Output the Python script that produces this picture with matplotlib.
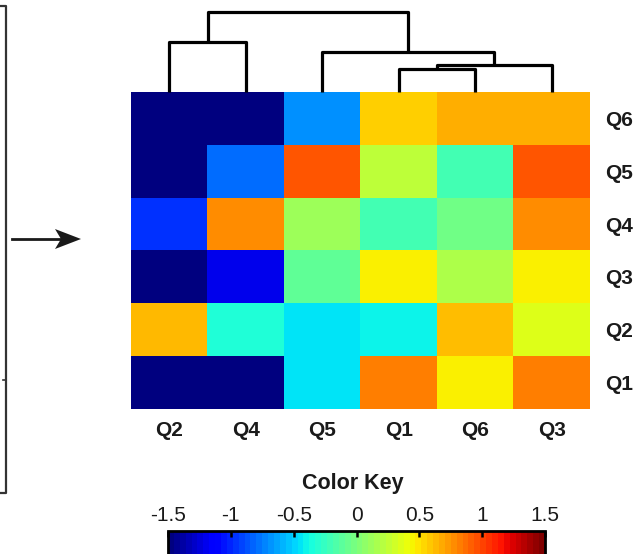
import numpy as np
import matplotlib
matplotlib.use("Agg")
from matplotlib import pyplot as plt
from matplotlib.lines import Line2D
from matplotlib.patches import Polygon
import matplotlib.colors as mcolors
import matplotlib.colorbar as mcolorbar

plt.rcParams['font.family'] = ['Liberation Sans', 'DejaVu Sans']

# column order after clustering, rows listed top to bottom
col_labels = ["Q2", "Q4", "Q5", "Q1", "Q6", "Q3"]
row_labels = ["Q6", "Q5", "Q4", "Q3", "Q2", "Q1"]

q6_row = [-1.5, -1.5, -0.70, 0.57, 0.67, 0.67]
q5_row = [-1.5, -0.80, 0.95, 0.24, -0.20, 0.95]
q4_row = [-0.98, 0.78, 0.12, -0.20, -0.04, 0.78]
q3_row = [-1.5, -1.21, -0.10, 0.46, 0.18, 0.46]
q2_row = [0.64, -0.33, -0.45, -0.40, 0.63, 0.36]
q1_row = [-1.5, -1.5, -0.45, 0.83, 0.46, 0.83]

# dendrogram merges: (left child, right child, height); leaves are 0..5
merges = [(3, 4, 23), (6, 5, 27), (2, 7, 40), (0, 1, 50), (9, 8, 80)]

key_ticks = [-1.5, -1, -0.5, 0, 0.5, 1, 1.5]
key_labels = ["-1.5", "-1", "-0.5", "0", "0.5", "1", "1.5"]

W, H = 638, 554
def box(x0, y0, x1, y1):
    # pixel box (top-left origin) -> figure fraction rect
    return [x0 / W, 1 - y1 / H, (x1 - x0) / W, (y1 - y0) / H]

fig = plt.figure(figsize=(W / 100, H / 100), dpi=100)
norm = mcolors.Normalize(vmin=-1.5, vmax=1.5)
ink = '#1a1a1a'

# heatmap
data = np.array([q6_row, q5_row, q4_row, q3_row, q2_row, q1_row])
ax = fig.add_axes(box(131, 92, 590, 409))
ax.imshow(data, cmap='jet', norm=norm, aspect='auto', interpolation='nearest')
ax.set_xticks(range(len(col_labels)))
ax.set_xticklabels(col_labels, fontsize=15, fontweight='bold', color=ink)
ax.set_yticks(range(len(row_labels)))
ax.set_yticklabels(row_labels, fontsize=15, fontweight='bold', color=ink)
ax.yaxis.tick_right()
ax.tick_params(axis='x', length=0, pad=9)
ax.tick_params(axis='y', length=0, pad=11)
for s in ax.spines.values():
    s.set_visible(False)

# dendrogram on top
dax = fig.add_axes(box(131, 0, 590, 92))
xpos = {i: float(i) for i in range(len(col_labels))}
hpos = {i: 0.0 for i in range(len(col_labels))}
for k, (a, b, h) in enumerate(merges):
    node = len(col_labels) + k
    dax.plot([xpos[a], xpos[a], xpos[b], xpos[b]], [hpos[a], h, h, hpos[b]],
             color='black', lw=2.3, solid_capstyle='butt', clip_on=False)
    xpos[node] = (xpos[a] + xpos[b]) / 2
    hpos[node] = h
dax.set_xlim(-0.5, len(col_labels) - 0.5)
dax.set_ylim(0, 92)
dax.axis('off')

# colour key
fig.text(353 / W, 1 - 483 / H, "Color Key", ha='center', va='center',
         fontsize=15.5, fontweight='bold', color=ink)
kax = fig.add_axes(box(168, 531, 545, 575))
cb = mcolorbar.ColorbarBase(kax, cmap=plt.get_cmap('jet', 64), norm=norm,
                            orientation='horizontal')
cb.set_ticks(key_ticks)
cb.set_ticklabels(key_labels)
cb.outline.set_linewidth(2)
kax.xaxis.set_ticks_position('both')
kax.xaxis.set_label_position('top')
kax.tick_params(axis='x', direction='in', length=4, width=1.8, color='black',
                labeltop=True, labelbottom=False, labelsize=15,
                labelcolor=ink, pad=4)

# partial box on the left and arrow
fig.add_artist(Line2D([-2 / W, 6 / W, 6 / W, -2 / W],
                      [1 - 6 / H, 1 - 6 / H, 1 - 493 / H, 1 - 493 / H],
                      transform=fig.transFigure, color='#333333', lw=1.6))
fig.add_artist(Line2D([3 / W, 6 / W], [1 - 380 / H, 1 - 380 / H],
                      transform=fig.transFigure, color='#333333', lw=1.2))
ay = 239
fig.add_artist(Line2D([12 / W, 62 / W], [1 - ay / H, 1 - ay / H],
                      transform=fig.transFigure, color='#1a1a1a', lw=2))
head = [(81, ay), (55, ay - 10), (61, ay), (55, ay + 10)]
fig.add_artist(Polygon([(x / W, 1 - y / H) for x, y in head], closed=True,
                       transform=fig.transFigure, color='#1a1a1a', lw=0))

fig.savefig("out.png", dpi=100)
